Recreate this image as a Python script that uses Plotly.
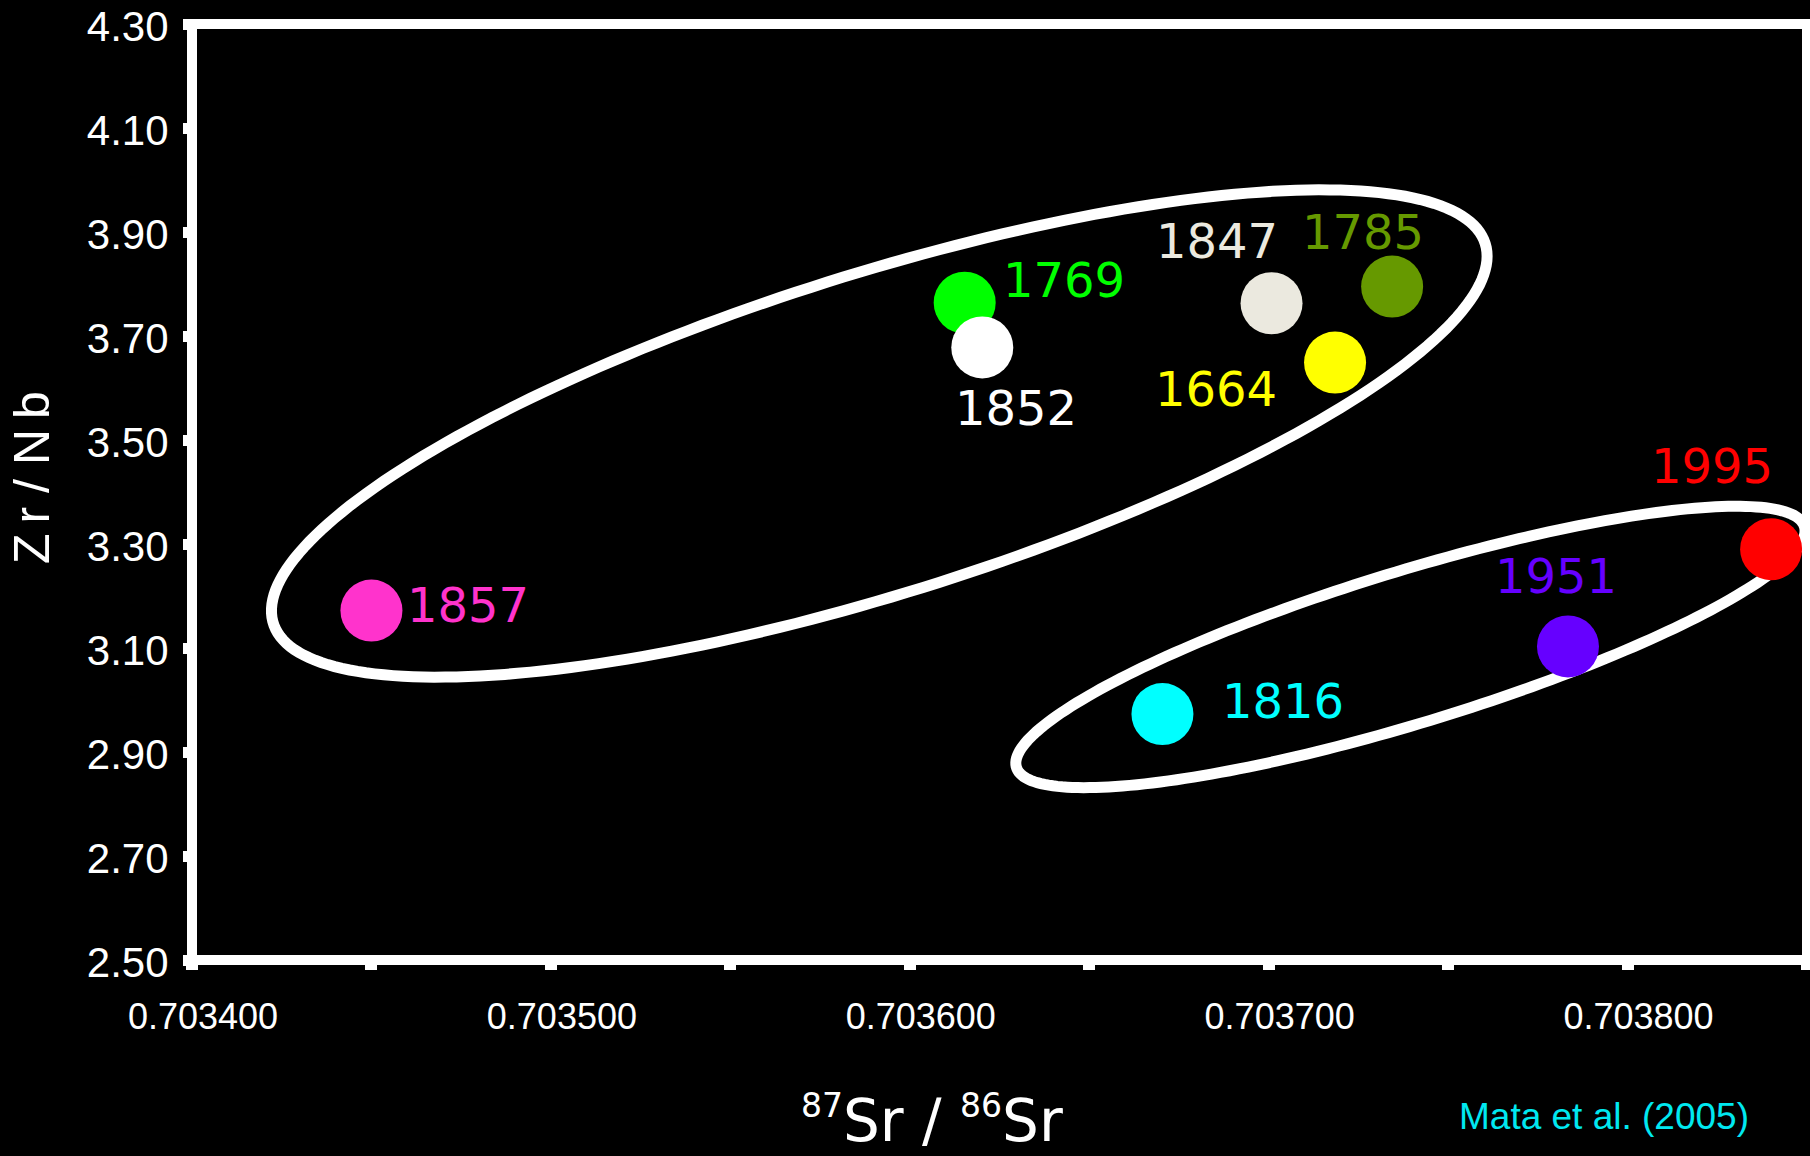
import numpy as np
import plotly.graph_objects as go

# ---- data ----
eruptions = ["1857", "1769", "1852", "1847", "1785", "1664", "1995", "1951", "1816"]
sr_ratio = [0.7034500, 0.7036153, 0.7036202, 0.7037008, 0.7037344,
            0.7037185, 0.7038400, 0.7037834, 0.7036704]
zr_nb = [3.172, 3.764, 3.678, 3.763, 3.795, 3.649, 3.290, 3.103, 2.973]
point_colors = ["#ff33cc", "#00ff00", "#ffffff", "#ebe9df", "#669900",
                "#ffff00", "#ff0000", "#6600ff", "#00ffff"]
# label offsets from each point, in pixels (right, up)
label_dx = [97, 99, 34, -55, -29, -119, -59, -12, 121]
label_dy = [6, 23, -61, 62, 55, -26, 83, 70, 13]

y_tick_vals = [2.50, 2.70, 2.90, 3.10, 3.30, 3.50, 3.70, 3.90, 4.10, 4.30]
x_tick_vals = [0.7034, 0.7035, 0.7036, 0.7037, 0.7038]
x_tick_text = ["0.703400", "0.703500", "0.703600", "0.703700", "0.703800"]

# grouping ellipses (centre in data units, semi-axes in pixels, tilt in degrees)
group_cx = [0.7035915, 0.7037395]
group_cy = [3.5125, 3.102]
group_a_px = [635, 412]
group_b_px = [160, 76]
group_tilt = [17.4, 17.0]

# ---- layout geometry ----
W, H = 1810, 1156
ML, MR, MT, MB = 192, 3, 24, 196
X_RANGE = [0.7034, 0.70385]
Y_RANGE = [2.50, 4.30]
PW, PH = W - ML - MR, H - MT - MB


def px_to_paper(xp, yp):
    return (xp - ML) / PW, 1 - (yp - MT) / PH


fig = go.Figure()

# ellipses
shapes = []
t = np.linspace(0, 2 * np.pi, 240)
for cx, cy, a, b, ang in zip(group_cx, group_cy, group_a_px, group_b_px, group_tilt):
    th = np.radians(ang)
    u, v = a * np.cos(t), b * np.sin(t)
    px = u * np.cos(th) - v * np.sin(th)
    py = u * np.sin(th) + v * np.cos(th)
    xs = cx + px * (X_RANGE[1] - X_RANGE[0]) / PW
    ys = cy + py * (Y_RANGE[1] - Y_RANGE[0]) / PH
    path = "M " + " L ".join(f"{x:.9f},{y:.5f}" for x, y in zip(xs, ys)) + " Z"
    shapes.append(dict(type="path", path=path, xref="x", yref="y",
                       line=dict(color="white", width=11), layer="below"))

# plot frame centred on the plot-area edges
shapes.append(dict(type="rect", xref="paper", yref="paper", x0=0, x1=1, y0=0, y1=1,
                   line=dict(color="white", width=10), layer="above"))

fig.add_trace(go.Scatter(
    x=sr_ratio, y=zr_nb, mode="markers",
    marker=dict(size=62, color=point_colors, line=dict(width=0)),
    showlegend=False, hoverinfo="skip", cliponaxis=False))

annotations = []
for name, x, y, c, dx, dy in zip(eruptions, sr_ratio, zr_nb, point_colors, label_dx, label_dy):
    annotations.append(dict(x=x, y=y, xref="x", yref="y", text=name, showarrow=False,
                            xshift=dx, yshift=dy, xanchor="center", yanchor="middle",
                            font=dict(family="DejaVu Sans", size=48, color=c)))

# source note
sx, sy = px_to_paper(1604, 1116)
annotations.append(dict(x=sx, y=sy, xref="paper", yref="paper", text="Mata et al. (2005)",
                        showarrow=False, xanchor="center", yanchor="middle",
                        font=dict(family="Liberation Sans", size=37, color="#00e8f0")))
# x axis title
tx, ty = px_to_paper(932, 1120)
annotations.append(dict(x=tx, y=ty, xref="paper", yref="paper",
                        text="<sup><span style='font-size:33px'>87</span></sup>Sr / "
                             "<sup><span style='font-size:33px'>86</span></sup>Sr",
                        showarrow=False, xanchor="center", yanchor="middle",
                        font=dict(family="DejaVu Sans", size=58, color="white")))
# y axis title
yx, yy = px_to_paper(32, 478)
annotations.append(dict(x=yx, y=yy, xref="paper", yref="paper",
                        text="Z\u2009r / N\u2009b", textangle=-90,
                        showarrow=False, xanchor="center", yanchor="middle",
                        font=dict(family="Liberation Sans", size=50, color="white")))

fig.update_layout(
    width=W, height=H, autosize=False,
    margin=dict(l=ML, r=MR, t=MT, b=MB, pad=0),
    paper_bgcolor="black", plot_bgcolor="black",
    shapes=shapes, annotations=annotations,
    xaxis=dict(range=X_RANGE, showgrid=False, zeroline=False, showline=False,
               automargin=False,
               tickmode="array", tickvals=x_tick_vals, ticktext=x_tick_text,
               ticks="outside", ticklen=9, tickwidth=12, tickcolor="white",
               minor=dict(dtick=0.00005, tick0=0.7034, ticks="outside", ticklen=9,
                          tickwidth=12, tickcolor="white", showgrid=False),
               tickfont=dict(family="Liberation Sans", size=36, color="white"),
               ticklabelstandoff=16, ticklabelshift=11, ticklabeloverflow="allow"),
    yaxis=dict(range=Y_RANGE, showgrid=False, zeroline=False, showline=False,
               automargin=False,
               tickmode="array", tickvals=y_tick_vals,
               ticktext=[f"{v:.2f}" for v in y_tick_vals],
               ticks="outside", ticklen=8, tickwidth=11, tickcolor="white",
               tickfont=dict(family="Liberation Sans", size=42, color="white"),
               ticklabelstandoff=6, ticklabelshift=2, ticklabeloverflow="allow"),
)

fig.write_html(
    "out.html",
    config={"displayModeBar": False},
    post_script="document.documentElement.style.margin='0';"
                "document.body.style.margin='0';"
                "document.body.style.background='black';"
                "document.body.style.overflow='hidden';")
